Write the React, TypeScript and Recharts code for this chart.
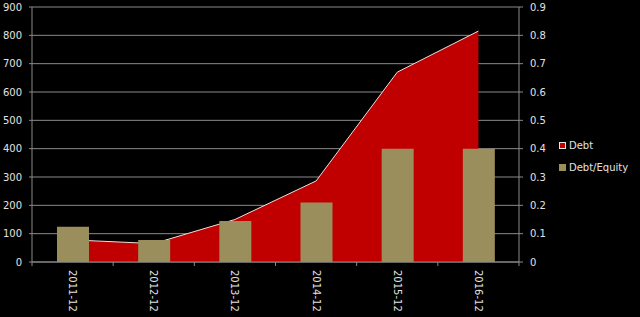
import React from "react";
import {
  ComposedChart,
  Area,
  Bar,
  XAxis,
  YAxis,
  CartesianGrid,
} from "recharts";

const categories = ["2011-12", "2012-12", "2013-12", "2014-12", "2015-12", "2016-12"];
const debt = [78, 65, 150, 286, 670, 815];
const debtEquity = [0.124, 0.078, 0.145, 0.21, 0.4, 0.4];
const leftTicks = [0, 100, 200, 300, 400, 500, 600, 700, 800, 900];
const rightTicks = [0, 0.1, 0.2, 0.3, 0.4, 0.5, 0.6, 0.7, 0.8, 0.9];
const seriesNames = ["Debt", "Debt/Equity"];

const data = categories.map((c, i) => ({ cat: c, debt: debt[i], de: debtEquity[i] }));

const FONT = "'DejaVu Sans', Verdana, sans-serif";
const TEXT = "#e2e2e2";
const AXIS = "#8a8a8a";

const XTick = (props: any) => {
  const { x, y, payload } = props;
  const band = 487 / categories.length;
  const axisY = y - 8;
  return (
    <g>
      <line x1={x - band / 2} x2={x - band / 2} y1={axisY} y2={axisY + 4} stroke={AXIS} />
      {payload.index === categories.length - 1 && (
        <line x1={x + band / 2} x2={x + band / 2} y1={axisY} y2={axisY + 4} stroke={AXIS} />
      )}
      <text
        transform={`translate(${x},${y}) rotate(90)`}
        textAnchor="start"
        dy="0.35em"
        fill={TEXT}
        fontSize={10}
        fontFamily={FONT}
      >
        {payload.value}
      </text>
    </g>
  );
};

export default function App() {
  return (
    <div
      style={{
        position: "absolute",
        left: 0,
        top: 0,
        width: 640,
        height: 317,
        background: "#000",
      }}
    >
      <ComposedChart
        width={640}
        height={317}
        data={data}
        margin={{ top: 7, right: 91, bottom: 0, left: 0 }}
      >
        <CartesianGrid horizontal vertical={false} stroke={AXIS} yAxisId="left" />
        <XAxis
          dataKey="cat"
          height={55}
          stroke={AXIS}
          tickLine={false}
          tickSize={6}
          tick={<XTick />}
          tickMargin={2}
          interval={0}
        />
        <YAxis
          yAxisId="left"
          domain={[0, 900]}
          ticks={leftTicks}
          width={32}
          stroke={AXIS}
          tickSize={3}
          tickMargin={7}
          tick={{ fill: TEXT, fontSize: 10, fontFamily: FONT }}
          interval={0}
        />
        <YAxis
          yAxisId="right"
          orientation="right"
          domain={[0, 0.9]}
          ticks={rightTicks}
          width={30}
          stroke={AXIS}
          tickSize={4}
          tickMargin={7}
          tick={{ fill: TEXT, fontSize: 10, fontFamily: FONT, textAnchor: "start" }}
          interval={0}
        />
        <Area
          yAxisId="left"
          dataKey="debt"
          type="linear"
          fill="#c00000"
          fillOpacity={1}
          stroke="#f2dede"
          strokeWidth={1}
          isAnimationActive={false}
          dot={false}
          activeDot={false}
        />
        <Bar
          yAxisId="right"
          dataKey="de"
          fill="#9a8e5c"
          barSize={32}
          isAnimationActive={false}
        />
      </ComposedChart>
      <div
        style={{
          position: "absolute",
          left: 559,
          top: 134,
          fontFamily: FONT,
          fontSize: 10,
          color: TEXT,
        }}
      >
        <div style={{ display: "flex", alignItems: "center", height: 22 }}>
          <span
            style={{
              display: "inline-block",
              width: 5,
              height: 5,
              background: "#c00000",
              border: "1px solid #e8e8e8",
              marginRight: 3,
            }}
          />
          {seriesNames[0]}
        </div>
        <div style={{ display: "flex", alignItems: "center", height: 22 }}>
          <span
            style={{
              display: "inline-block",
              width: 7,
              height: 7,
              background: "#9a8e5c",
              marginRight: 3,
            }}
          />
          {seriesNames[1]}
        </div>
      </div>
    </div>
  );
}
